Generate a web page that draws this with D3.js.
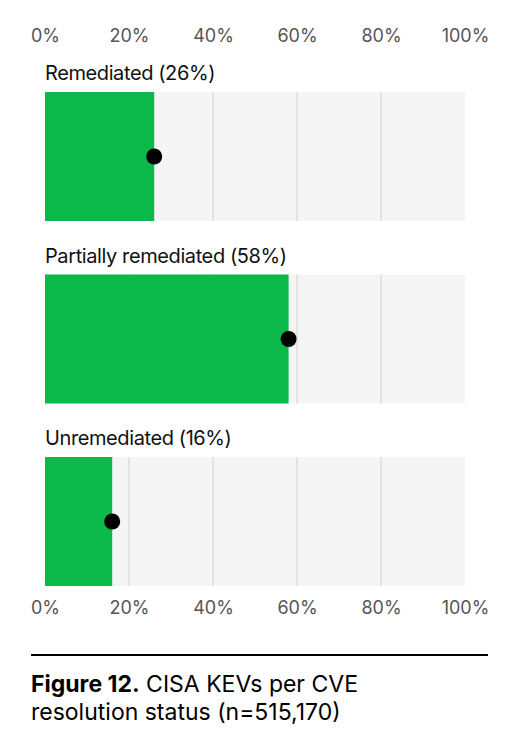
<!DOCTYPE html>
<html>
<head>
<meta charset="utf-8">
<script src="https://cdn.jsdelivr.net/npm/d3@7"></script>
<style>
  body { margin: 0; background: #fff; }
  svg text { font-family: Inter, "Liberation Sans", sans-serif; }
</style>
</head>
<body>
<div id="container"></div>
<script>
// data
const categories = ["Remediated", "Partially remediated", "Unremediated"];
const values = [26, 58, 16];
const ticks = [0, 20, 40, 60, 80, 100];

const w = 510;
const h = 752;

const xScale = d3.scaleLinear().domain([0, 100]).range([45, 465]);
const yScale = d3
  .scaleBand()
  .domain(categories)
  .range([92, 586])
  .paddingInner(53.5 / 182.5)
  .paddingOuter(0);

let svg = d3
  .select("#container")
  .append("svg")
  .attr("width", w)
  .attr("height", h);

// panel backgrounds
svg
  .selectAll("rect.panel")
  .data(categories)
  .enter()
  .append("rect")
  .attr("class", "panel")
  .attr("x", xScale(0))
  .attr("y", (d) => yScale(d))
  .attr("width", xScale(100) - xScale(0))
  .attr("height", yScale.bandwidth())
  .attr("fill", "#f5f5f5");

// gridlines
categories.forEach((c) => {
  svg
    .selectAll(null)
    .data(ticks.slice(1, -1))
    .enter()
    .append("line")
    .attr("x1", (t) => xScale(t))
    .attr("x2", (t) => xScale(t))
    .attr("y1", yScale(c))
    .attr("y2", yScale(c) + yScale.bandwidth())
    .attr("stroke", "#dcdcdc")
    .attr("stroke-width", 1.5);
});

// bars
svg
  .selectAll("rect.bar")
  .data(categories)
  .enter()
  .append("rect")
  .attr("class", "bar")
  .attr("x", xScale(0))
  .attr("y", (d) => yScale(d))
  .attr("width", (d, i) => xScale(values[i]) - xScale(0))
  .attr("height", yScale.bandwidth())
  .attr("fill", "#0bb84a");

// dots
svg
  .selectAll("circle")
  .data(categories)
  .enter()
  .append("circle")
  .attr("cx", (d, i) => xScale(values[i]))
  .attr("cy", (d) => yScale(d) + yScale.bandwidth() / 2)
  .attr("r", 8)
  .attr("fill", "#000");

// labels
svg
  .selectAll("text.label")
  .data(categories)
  .enter()
  .append("text")
  .attr("class", "label")
  .attr("x", xScale(0))
  .attr("y", (d) => yScale(d) - 12)
  .attr("font-size", 20)
  .attr("fill", "#111")
  .attr("letter-spacing", -0.4)
  .text((d, i) => d + " (" + values[i] + "%)");

// axes
var x_top = d3
  .axisTop(xScale)
  .tickValues(ticks)
  .tickFormat((d) => d + "%")
  .tickSize(0)
  .tickPadding(0);
var x_bottom = d3
  .axisBottom(xScale)
  .tickValues(ticks)
  .tickFormat((d) => d + "%")
  .tickSize(0)
  .tickPadding(0);

svg
  .append("g")
  .attr("transform", "translate(0, 42)")
  .call(x_top)
  .call((g) => g.select(".domain").remove())
  .selectAll("text")
  .attr("font-size", 18)
  .attr("fill", "#555")
  .attr("dy", 0);

svg
  .append("g")
  .attr("transform", "translate(0, 614)")
  .call(x_bottom)
  .call((g) => g.select(".domain").remove())
  .selectAll("text")
  .attr("font-size", 18)
  .attr("fill", "#555")
  .attr("dy", 0);

// caption
svg
  .append("line")
  .attr("x1", 31)
  .attr("x2", 488)
  .attr("y1", 655)
  .attr("y2", 655)
  .attr("stroke", "#000")
  .attr("stroke-width", 2);

const cap = svg
  .append("text")
  .attr("x", 31)
  .attr("y", 692)
  .attr("font-size", 23)
  .attr("fill", "#000");
cap.append("tspan").attr("font-weight", "bold").text("Figure 12.");
cap.append("tspan").text(" CISA KEVs per CVE");
svg
  .append("text")
  .attr("x", 31)
  .attr("y", 720)
  .attr("font-size", 23)
  .attr("fill", "#000")
  .text("resolution status (n=515,170)");
</script>
</body>
</html>
